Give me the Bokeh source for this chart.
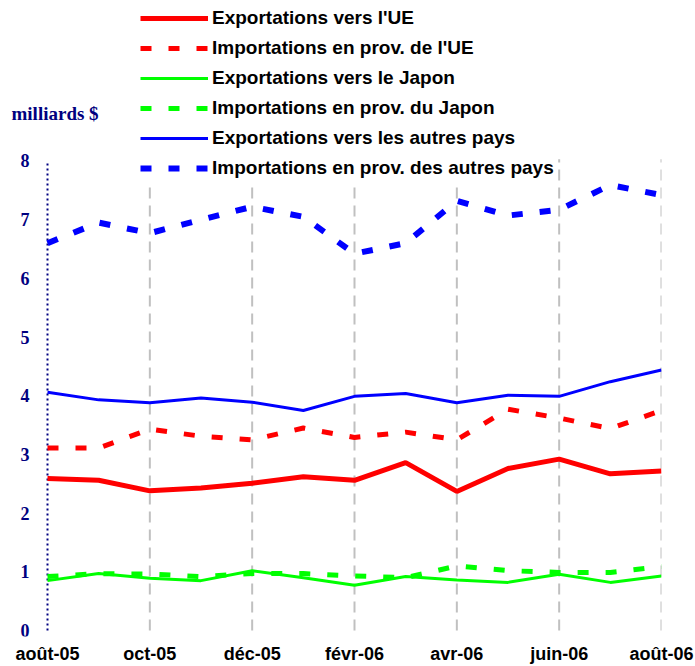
from bokeh.plotting import figure
from bokeh.models import Range1d, FixedTicker, Legend, LegendItem, Label
from bokeh.core.properties import value
from bokeh.embed import file_html
from bokeh.resources import INLINE

months = ["août-05", "sept-05", "oct-05", "nov-05", "déc-05", "janv-06", "févr-06",
          "mars-06", "avr-06", "mai-06", "juin-06", "juil-06", "août-06"]
x = list(range(len(months)))

exp_ue = [2.59, 2.56, 2.38, 2.43, 2.51, 2.62, 2.56, 2.86, 2.37, 2.76, 2.92, 2.67, 2.72]
imp_ue = [3.11, 3.11, 3.43, 3.31, 3.25, 3.45, 3.29, 3.38, 3.25, 3.77, 3.62, 3.44, 3.75]
exp_jp = [0.85, 0.97, 0.89, 0.85, 1.02, 0.90, 0.77, 0.92, 0.86, 0.82, 0.96, 0.82, 0.93]
imp_jp = [0.92, 0.97, 0.96, 0.92, 0.97, 0.97, 0.93, 0.90, 1.10, 1.02, 0.99, 0.99, 1.09]
exp_other = [4.06, 3.93, 3.88, 3.96, 3.89, 3.75, 3.99, 4.04, 3.88, 4.01, 3.99, 4.24, 4.44]
imp_other = [6.60, 6.95, 6.77, 7.00, 7.22, 7.05, 6.42, 6.60, 7.32, 7.07, 7.17, 7.59, 7.42]

labels = ["Exportations vers l'UE", "Importations en prov. de l'UE",
          "Exportations vers le Japon", "Importations en prov. du Japon",
          "Exportations vers les autres pays", "Importations en prov. des autres pays"]
y_ticks = [0, 1, 2, 3, 4, 5, 6, 7, 8]
x_ticks = [0, 2, 4, 6, 8, 10, 12]
unit_label = "milliards $"

# layout (pixels): plot origin at (47, 632), last month at x=661, value 8 at y=161
W, H = 695, 666
X0, X1, Y0, Y8 = 47, 661, 632, 161
FRAME_BOTTOM = 638
px_month = (X1 - X0) / (len(months) - 1)
px_unit = (Y0 - Y8) / y_ticks[-1]
GRID_TOP = 8.03
NAVY = "#000080"

p = figure(width=W, height=H, output_backend="svg", toolbar_location=None,
           y_axis_location=None,
           x_range=Range1d(-X0 / px_month, len(months) - 1),
           y_range=Range1d(-(FRAME_BOTTOM - Y0) / px_unit, Y0 / px_unit),
           min_border_left=0, min_border_right=W - X1, min_border_top=0,
           min_border_bottom=H - FRAME_BOTTOM)
p.outline_line_color = None
p.background_fill_color = "white"
p.border_fill_color = "white"
p.xgrid.grid_line_color = None
p.ygrid.grid_line_color = None

# vertical dashed grid lines
p.segment(x0=x_ticks[1:], y0=[y_ticks[0]] * (len(x_ticks) - 1),
          x1=x_ticks[1:], y1=[GRID_TOP] * (len(x_ticks) - 1),
          line_color="#C0C0C0", line_width=2, line_dash="11 7")

# dotted y axis line
p.line(x=[x_ticks[0], x_ticks[0]], y=[y_ticks[0], y_ticks[-1]],
       line_color=NAVY, line_width=2, line_dash="2 3")

# y tick labels
p.text(x=[x_ticks[0]] * len(y_ticks), y=y_ticks, text=[str(t) for t in y_ticks],
       x_offset=-18, text_align="right", text_baseline="middle",
       text_font=value("Liberation Serif"), text_font_style="bold",
       text_font_size="18px", text_color=NAVY)

dash = "11 17"
r1 = p.line(x, exp_ue, line_color="#FF0000", line_width=5)
r2 = p.line(x, imp_ue, line_color="#FF0000", line_width=5, line_dash=dash)
r3 = p.line(x, exp_jp, line_color="#00FF00", line_width=3)
r4 = p.line(x, imp_jp, line_color="#00FF00", line_width=5, line_dash=dash)
r5 = p.line(x, exp_other, line_color="#0000FF", line_width=3)
r6 = p.line(x, imp_other, line_color="#0000FF", line_width=6, line_dash=dash)

# x axis
p.xaxis.ticker = FixedTicker(ticks=x_ticks)
p.xaxis.major_label_overrides = {i: months[i] for i in x_ticks}
p.xaxis.axis_line_color = None
p.xaxis.major_tick_line_color = None
p.xaxis.minor_tick_line_color = None
p.xaxis.major_tick_out = 0
p.xaxis.major_label_standoff = 7
p.xaxis.major_label_text_font = "Liberation Sans"
p.xaxis.major_label_text_font_style = "bold"
p.xaxis.major_label_text_font_size = "18px"
p.xaxis.major_label_text_color = "black"

p.add_layout(Label(x=(11 - X0) / px_month, y=(Y0 - 113) / px_unit, text=unit_label,
                   text_font="Liberation Serif", text_font_style="bold",
                   text_font_size="19px", text_color=NAVY,
                   text_baseline="alphabetic"))

legend = Legend(items=[LegendItem(label=l, renderers=[r]) for l, r in
                       zip(labels, [r1, r2, r3, r4, r5, r6])],
                location=(140, FRAME_BOTTOM - 185), orientation="vertical",
                padding=0, margin=0, spacing=0, label_standoff=4,
                glyph_width=68, glyph_height=30, label_height=30,
                label_text_font="Liberation Sans", label_text_font_style="bold",
                label_text_font_size="19px", label_text_color="black",
                border_line_color=None, background_fill_color="white",
                background_fill_alpha=1.0)
p.add_layout(legend, "center")

open("out.html", "w").write(file_html(p, INLINE))
